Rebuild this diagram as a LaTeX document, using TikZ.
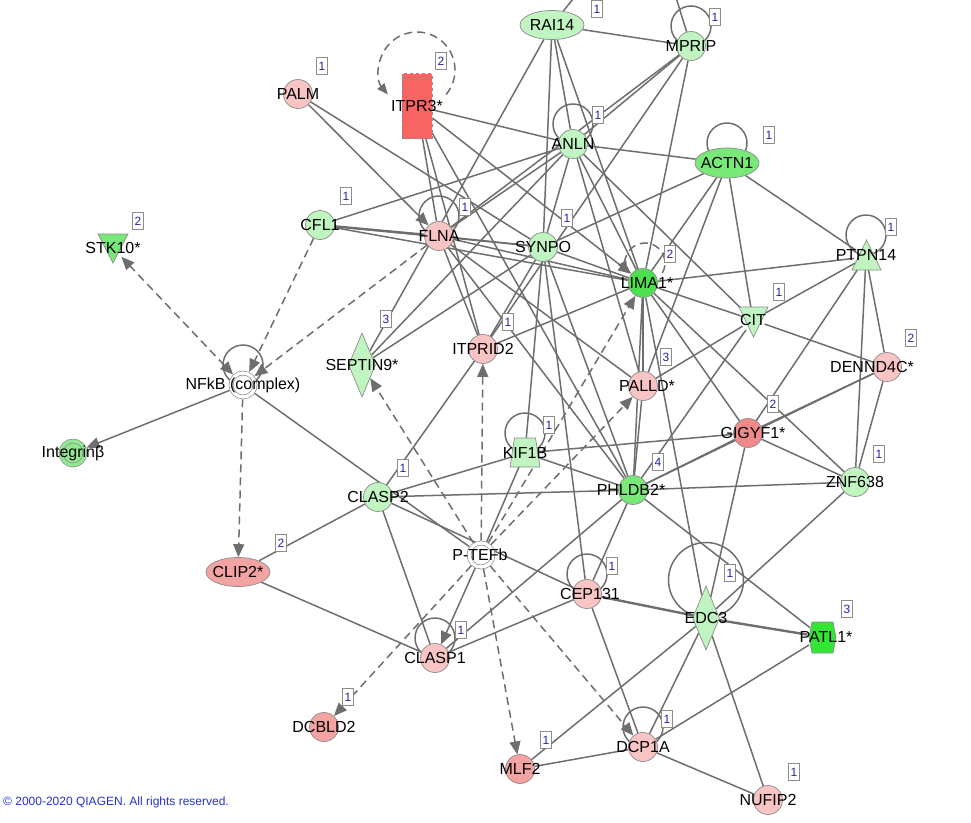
\documentclass[tikz,border=0pt]{standalone}
\usepackage{fontspec}
\setmainfont{Liberation Sans}
\usetikzlibrary{shapes.geometric,arrows.meta,calc}
\definecolor{edgec}{HTML}{6E6E6E}
\definecolor{bordc}{HTML}{8C8C8C}
\definecolor{pinkL}{HTML}{F9C4C4}
\definecolor{pinkM}{HTML}{F4A3A3}
\definecolor{pinkD}{HTML}{F08989}
\definecolor{redI}{HTML}{F86464}
\definecolor{greenL}{HTML}{C0F4C0}
\definecolor{greenM}{HTML}{78E878}
\definecolor{greenD}{HTML}{4EE04E}
\definecolor{greenB}{HTML}{34E634}
\definecolor{greenI}{HTML}{92E892}
\definecolor{numc}{HTML}{2424A8}
\definecolor{copyc}{HTML}{2233CC}
\pgfdeclarelayer{bg}
\pgfsetlayers{bg,main}
\tikzset{
  gene/.style={draw=bordc, line width=0.7pt, inner sep=0pt},
  circ/.style={gene, circle, minimum size=29pt},
  ell/.style={gene, ellipse, minimum width=64pt, minimum height=29pt},
  dbl/.style={gene, circle, minimum size=24pt, double distance=3.3pt, outer sep=2.4pt},
  anc/.style={circle, minimum size=#1, inner sep=0pt},
  shp/.style={draw=bordc, line width=0.7pt},
  lbl/.style={font=\fontsize{16}{18}\selectfont, text=black, inner sep=0pt},
  numbox/.style={draw=bordc, fill=white, line width=0.6pt, minimum width=11pt, minimum height=17pt, inner sep=0pt, font=\fontsize{12}{12}\selectfont, text=numc},
  link/.style={draw=edgec, line width=1.5pt},
  thick link/.style={draw=edgec, line width=2.4pt},
  arr/.style={link, -{Triangle[length=13pt,width=11pt]}},
  dlink/.style={link, dash pattern=on 8pt off 5pt},
  darr/.style={dlink, -{Triangle[length=13pt,width=11pt]}},
  dbarr/.style={dlink, {Triangle[length=13pt,width=11pt]}-{Triangle[length=13pt,width=11pt]}},
  selfloop/.style={draw=edgec, line width=1.5pt},
}
\begin{document}
\begin{tikzpicture}[x=1pt,y=-1pt]
\useasboundingbox (0,0) rectangle (971,822);
% ---------- nodes ----------
\node[ell, fill=greenL] (rai) at (552,25) {};
\node[circ, fill=greenL] (mprip) at (691,46) {};
\node[circ, fill=greenL] (anln) at (573,144) {};
\node[ell, fill=greenM, minimum height=30pt] (actn) at (727,163) {};
\node[gene, rectangle, fill=redI, dashed, minimum width=30pt, minimum height=65pt] (itpr) at (417,106) {};
\node[circ, fill=pinkL] (palm) at (298,94) {};
\node[circ, fill=greenL] (cfl) at (320,225) {};
\node[circ, fill=pinkL] (flna) at (439,236) {};
\node[circ, fill=greenL] (synpo) at (543,247) {};
\node[circ, fill=greenD] (lima) at (643,283) {};
\node[circ, fill=pinkL] (dennd) at (887,367) {};
\node[circ, fill=pinkL] (palld) at (643,386) {};
\node[circ, fill=pinkD] (gigyf) at (748,433) {};
\node[circ, fill=greenL] (znf) at (855,482) {};
\node[circ, fill=greenM] (phldb) at (633,490) {};
\node[circ, fill=greenL] (clasp2) at (378,497) {};
\node[dbl, fill=white, double=white] (ptefb) at (481,555) {};
\node[circ, fill=pinkL] (cep) at (587,594) {};
\node[gene, diamond, fill=greenL, aspect=0.42, minimum width=27pt, minimum height=64pt] (edc) at (706,618) {};
\node[circ, fill=pinkL] (dcp) at (643,747) {};
\node[circ, fill=pinkL] (nufip) at (768,800) {};
\node[circ, fill=pinkM] (mlf) at (520,769) {};
\node[circ, fill=pinkL] (clasp1) at (435,658) {};
\node[circ, fill=pinkM] (dcbld) at (324,727) {};
\node[ell, fill=pinkM] (clip) at (238,572) {};
\node[dbl, fill=white, double=white] (nfkb) at (243,385) {};
\node[dbl, fill=greenI, double=greenI] (integ) at (73,453) {};
\node[gene, diamond, fill=greenL, aspect=0.42, minimum width=27pt, minimum height=64pt] (septin) at (362,365) {};
\node[circ, fill=pinkL] (itprid) at (483,349) {};
% drawn shapes with anchor nodes
\filldraw[shp, fill=greenM] (98,234) -- (128,234) -- (113,263) -- cycle;
\node[anc=24pt] (stk) at (113,248) {};
\filldraw[shp, fill=greenL] (739,307) -- (768,307) -- (753.5,337) -- cycle;
\node[anc=24pt] (cit) at (753,320) {};
\filldraw[shp, fill=greenL] (852,270) -- (881,270) -- (866.5,240) -- cycle;
\node[anc=24pt] (ptpn) at (866,257) {};
\filldraw[shp, fill=greenL] (514.5,438) -- (535.5,438) -- (540,467) -- (510,467) -- cycle;
\node[anc=28pt] (kif) at (525,453) {};
\filldraw[shp, fill=greenB] (812,622) -- (833,622) -- (836,637.5) -- (833,653) -- (812,653) -- (809,637.5) -- cycle;
\node[anc=30pt] (patl) at (822,637) {};
\coordinate (offA) at (590,-22);
\coordinate (offB) at (670,-22);
% ---------- labels ----------
\node[lbl] (t-rai) at (rai) {RAI14};
\node[lbl] (t-mprip) at (mprip) {MPRIP};
\node[lbl] (t-anln) at (anln) {ANLN};
\node[lbl] (t-actn) at (actn) {ACTN1};
\node[lbl] (t-itpr) at (417,106) {ITPR3*};
\node[lbl] (t-palm) at (palm) {PALM};
\node[lbl] (t-cfl) at (cfl) {CFL1};
\node[lbl] (t-stk) at (113,248) {STK10*};
\node[lbl] (t-flna) at (flna) {FLNA};
\node[lbl] (t-synpo) at (synpo) {SYNPO};
\node[lbl] (t-lima) at (647,283) {LIMA1*};
\node[lbl] (t-ptpn) at (866,255) {PTPN14};
\node[lbl] (t-cit) at (753,320) {CIT};
\node[lbl] (t-dennd) at (872,367) {DENND4C*};
\node[lbl] (t-palld) at (647,386) {PALLD*};
\node[lbl] (t-gigyf) at (753,433) {GIGYF1*};
\node[lbl] (t-znf) at (855,482) {ZNF638};
\node[lbl] (t-phldb) at (631,490) {PHLDB2*};
\node[lbl] (t-kif) at (525,453) {KIF1B};
\node[lbl] (t-clasp2) at (378,497) {CLASP2};
\node[lbl] (t-ptefb) at (480,555) {P-TEFb};
\node[lbl] (t-cep) at (590,594) {CEP131};
\node[lbl] (t-edc) at (706,618) {EDC3};
\node[lbl] (t-patl) at (826,637) {PATL1*};
\node[lbl] (t-dcp) at (643,747) {DCP1A};
\node[lbl] (t-nufip) at (768,800) {NUFIP2};
\node[lbl] (t-mlf) at (520,769) {MLF2};
\node[lbl] (t-clasp1) at (435,658) {CLASP1};
\node[lbl] (t-dcbld) at (324,727) {DCBLD2};
\node[lbl] (t-clip) at (238,572) {CLIP2*};
\node[lbl] (t-nfkb) at (243,385) {NFkB (complex)};
\node[lbl] (t-integ) at (73,453) {Integrinβ};
\node[lbl] (t-septin) at (362,365) {SEPTIN9*};
\node[lbl] (t-itprid) at (483,349) {ITPRID2};
% ---------- number boxes ----------
\node[numbox] (n-rai) at (597,9) {1};
\node[numbox] (n-mprip) at (715,17) {1};
\node[numbox] (n-anln) at (598,115) {1};
\node[numbox] (n-actn) at (769,135) {1};
\node[numbox] (n-palm) at (322,66) {1};
\node[numbox] (n-itpr) at (441,61) {2};
\node[numbox] (n-cfl) at (346,196) {1};
\node[numbox] (n-flna) at (465,207) {1};
\node[numbox] (n-synpo) at (567,218) {1};
\node[numbox] (n-stk) at (138,221) {2};
\node[numbox] (n-ptpn) at (891,227) {1};
\node[numbox] (n-lima) at (670,254) {2};
\node[numbox] (n-cit) at (779,292) {1};
\node[numbox] (n-septin) at (386,319) {3};
\node[numbox] (n-itprid) at (508,322) {1};
\node[numbox] (n-dennd) at (911,338) {2};
\node[numbox] (n-palld) at (666,357) {3};
\node[numbox] (n-gigyf) at (773,404) {2};
\node[numbox] (n-kif) at (549,425) {1};
\node[numbox] (n-znf) at (879,454) {1};
\node[numbox] (n-phldb) at (658,462) {4};
\node[numbox] (n-clasp2) at (403,468) {1};
\node[numbox] (n-clip) at (281,543) {2};
\node[numbox] (n-cep) at (612,566) {1};
\node[numbox] (n-edc) at (730,573) {1};
\node[numbox] (n-patl) at (847,609) {3};
\node[numbox] (n-clasp1) at (461,630) {1};
\node[numbox] (n-dcbld) at (348,697) {1};
\node[numbox] (n-mlf) at (546,740) {1};
\node[numbox] (n-dcp) at (667,719) {1};
\node[numbox] (n-nufip) at (794,772) {1};
% ---------- copyright ----------
\node[anchor=west, inner sep=0pt, text=copyc, font=\fontsize{12}{14}\selectfont] (copy) at (3,802) {© 2000-2020 QIAGEN. All rights reserved.};
% ---------- edges ----------
\begin{pgfonlayer}{bg}
% self loops
\foreach \n in {mprip,anln,actn,flna,nfkb,kif,cep,clasp1,dcp}
  \draw[selfloop] ($(\n)+(0,-20)$) circle[radius=20];
\draw[selfloop] ($(ptpn)+(0,-22)$) circle[radius=20];
\draw[selfloop] ($(edc)+(0,-38)$) circle[radius=37.5];
\draw[dlink, -{Triangle[length=11pt,width=9pt]}] ($(417,70)+(40:38)$) arc[start angle=40, end angle=-220, radius=38];
\draw[dlink, -{Triangle[length=11pt,width=9pt]}] ($(645,263)+(30:20)$) arc[start angle=30, end angle=-208, radius=20];
% plain links
\foreach \a/\b in {rai/mprip, rai/offA, mprip/offB, rai/anln, rai/synpo, rai/lima, rai/septin,
  mprip/anln, mprip/lima, mprip/itprid, mprip/flna,
  anln/actn, anln/itpr, anln/cfl, anln/flna, anln/synpo, anln/lima, anln/cit, anln/palld, anln/septin,
  actn/ptpn, actn/cit, actn/lima, actn/palld, actn/synpo,
  ptpn/lima, ptpn/cit, ptpn/dennd, ptpn/znf, ptpn/gigyf,
  cit/lima, cit/palld, cit/dennd, cit/phldb,
  dennd/znf, dennd/gigyf, dennd/phldb,
  gigyf/lima, gigyf/znf, gigyf/kif, gigyf/edc, gigyf/phldb,
  znf/phldb, znf/lima, znf/edc,
  edc/dcp, edc/nufip, edc/lima, edc/mlf,
  patl/phldb, patl/dcp,
  dcp/mlf, dcp/nufip, dcp/cep,
  cep/clasp1, cep/phldb, cep/synpo, cep/clasp2,
  clasp1/clip, clasp1/clasp2, clasp1/phldb,
  clasp2/kif, clasp2/phldb, clasp2/clip, clasp2/itprid,
  kif/synpo, kif/phldb, kif/ptefb,
  nfkb/ptefb,
  itpr/flna, itpr/itprid, itpr/phldb,
  cfl/synpo, cfl/lima,
  flna/synpo, flna/lima, flna/itprid, flna/palld, flna/phldb,
  palm/synpo,
  synpo/lima, synpo/itprid, synpo/septin, synpo/phldb,
  lima/itprid, lima/palld, lima/phldb,
  palld/phldb}
  \draw[link] (\a) -- (\b);
\foreach \a/\b in {edc/cep, edc/patl, cfl/flna}
  \draw[thick link] (\a) -- (\b);
% solid arrows
\foreach \a/\b in {palm/flna, itpr/lima, nfkb/integ, ptefb/clasp1}
  \draw[arr] (\a) -- (\b);
% dashed arrows
\foreach \a/\b in {cfl/nfkb, flna/nfkb, nfkb/clip, ptefb/septin, ptefb/itprid, ptefb/lima, ptefb/palld, ptefb/dcbld, ptefb/mlf, ptefb/dcp}
  \draw[darr] (\a) -- (\b);
\draw[dbarr] (nfkb) -- (stk);
\end{pgfonlayer}
\end{tikzpicture}
\end{document}
